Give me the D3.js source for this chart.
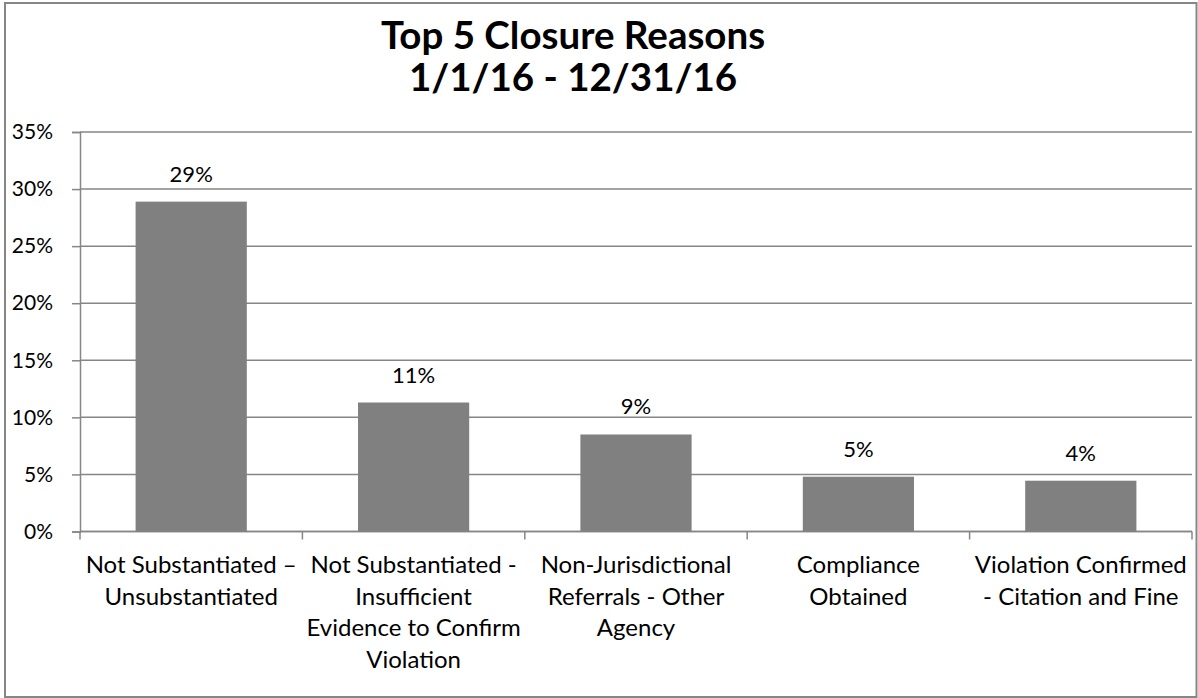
<!DOCTYPE html>
<html>
<head>
<meta charset="utf-8">
<script src="https://cdn.jsdelivr.net/npm/d3@7"></script>
<style>
  body { margin: 0; background: #fff; }
  text { font-family: Lato, "Liberation Sans", sans-serif; fill: #000; }
</style>
</head>
<body>
<div id="chart"></div>
<script>
// 数据
let categories = [
    "Not Substantiated – Unsubstantiated",
    "Not Substantiated - Insufficient Evidence to Confirm Violation",
    "Non-Jurisdictional Referrals - Other Agency",
    "Compliance Obtained",
    "Violation Confirmed - Citation and Fine"
];
// 分行的类别标签（按原图换行）
let categoryLines = [
    ["Not Substantiated –", "Unsubstantiated"],
    ["Not Substantiated -", "Insufficient", "Evidence to Confirm", "Violation"],
    ["Non-Jurisdictional", "Referrals - Other", "Agency"],
    ["Compliance", "Obtained"],
    ["Violation Confirmed", "- Citation and Fine"]
];
let values = [0.289, 0.113, 0.085, 0.048, 0.0445];
let valueLabels = ["29%", "11%", "9%", "5%", "4%"];
let yTicks = [0, 0.05, 0.10, 0.15, 0.20, 0.25, 0.30, 0.35];
let titleLines = ["Top 5 Closure Reasons", "1/1/16 - 12/31/16"];

let width = 1198;
let height = 698;
let margin = {left: 80, right: 6, top: 132, bottom: 167};

let svg = d3.select("#chart")
    .append("svg")
    .attr("width", width)
    .attr("height", height);

// 外边框
svg.append("rect")
    .attr("x", 5)
    .attr("y", 3)
    .attr("width", 1191.5)
    .attr("height", 694)
    .attr("fill", "#fff")
    .attr("stroke", "#868686")
    .attr("stroke-width", 2);

let x = d3.scaleBand()
    .domain(categories)
    .range([margin.left, width - margin.right])
    .paddingInner(0.5)
    .paddingOuter(0.25);

let y = d3.scaleLinear()
    .domain([0, 0.35])
    .range([height - margin.bottom + 0.5, margin.top]);

// 网格线
svg.append("g")
    .selectAll("line")
    .data(yTicks)
    .enter()
    .append("line")
    .attr("x1", margin.left)
    .attr("x2", width - margin.right)
    .attr("y1", function (d) { return y(d); })
    .attr("y2", function (d) { return y(d); })
    .attr("stroke", "#868686")
    .attr("stroke-width", 1.5);

// y 轴
let yAxis = svg.append("g")
    .attr("transform", "translate(" + margin.left + ",0)")
    .call(d3.axisLeft(y).tickValues(yTicks).tickFormat(d3.format(".0%")).tickSize(8).tickPadding(19));
yAxis.select(".domain").attr("stroke", "#868686").attr("stroke-width", 1.5);
yAxis.selectAll(".tick line").attr("stroke", "#868686").attr("stroke-width", 1.5);
yAxis.selectAll("text").attr("font-size", "21px").attr("font-family", "Lato, sans-serif").attr("fill", "#000");

// x 轴
let xStep = x.step();
let xAxis = svg.append("g")
    .attr("transform", "translate(0," + y(0) + ")");
xAxis.append("line")
    .attr("x1", margin.left)
    .attr("x2", width - margin.right)
    .attr("stroke", "#868686")
    .attr("stroke-width", 1.5);
xAxis.selectAll(".tk")
    .data(d3.range(categories.length + 1))
    .enter()
    .append("line")
    .attr("x1", function (i) { return margin.left + i * xStep; })
    .attr("x2", function (i) { return margin.left + i * xStep; })
    .attr("y1", 0)
    .attr("y2", 8)
    .attr("stroke", "#868686")
    .attr("stroke-width", 1.5);

// 类别标签
svg.selectAll(".cat")
    .data(categories)
    .enter()
    .append("text")
    .attr("class", "cat")
    .attr("text-anchor", "middle")
    .attr("font-size", "24px")
    .each(function (d, i) {
        let t = d3.select(this);
        let cx = x(d) + x.bandwidth() / 2;
        categoryLines[i].forEach(function (line, j) {
            t.append("tspan")
                .attr("x", cx)
                .attr("y", 573 + j * 31.5)
                .text(line);
        });
    });

// 条形
svg.selectAll(".bar")
    .data(values)
    .enter()
    .append("rect")
    .attr("class", "bar")
    .attr("x", function (d, i) { return x(categories[i]); })
    .attr("y", function (d) { return y(d); })
    .attr("width", x.bandwidth())
    .attr("height", function (d) { return y(0) - y(d); })
    .attr("fill", "#808080");

// 数据标签
svg.selectAll(".vlabel")
    .data(values)
    .enter()
    .append("text")
    .attr("class", "vlabel")
    .attr("x", function (d, i) { return x(categories[i]) + x.bandwidth() / 2; })
    .attr("y", function (d) { return y(d) - 20; })
    .attr("text-anchor", "middle")
    .attr("font-size", "22px")
    .text(function (d, i) { return valueLabels[i]; });

// 标题
svg.append("text")
    .attr("text-anchor", "middle")
    .attr("font-size", "38.5px")
    .attr("font-weight", "bold")
    .selectAll("tspan")
    .data(titleLines)
    .enter()
    .append("tspan")
    .attr("x", 573)
    .attr("y", function (d, i) { return 49 + i * 42; })
    .text(function (d) { return d; });
</script>
</body>
</html>
